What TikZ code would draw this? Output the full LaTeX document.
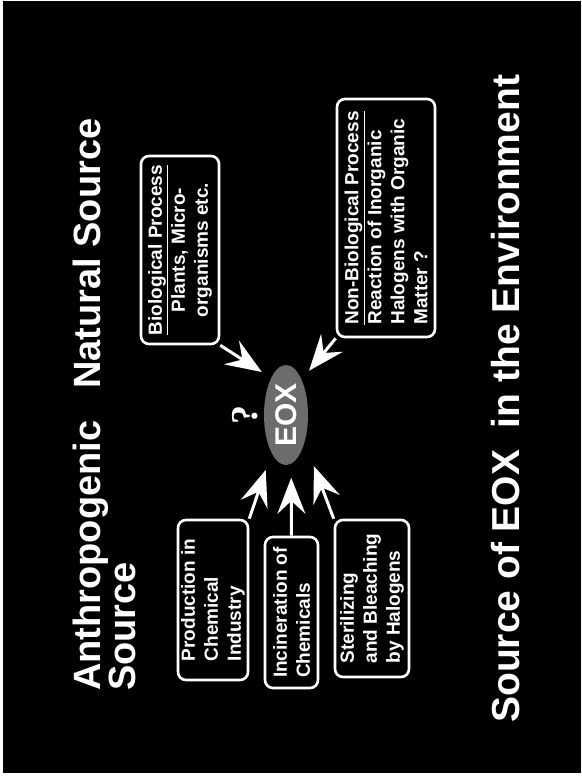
\documentclass[tikz,border=0pt]{standalone}
\usepackage{fontspec}
\setmainfont{Liberation Sans}
\newfontfamily\serifq{Liberation Serif}
\usetikzlibrary{arrows.meta,shapes.geometric}

\begin{document}
\begin{tikzpicture}[x=1pt, y=-1pt, >={Stealth[length=36pt, width=28pt, inset=13pt]},
    srcbox/.style={draw=white, line width=2.6pt, rounded corners=8pt, fill=black, text=white,
        rotate=90, inner sep=2pt, font=\bfseries\fontsize{19}{23}\selectfont},
    bigarrow/.style={->, white, line width=3pt},
    titre/.style={rotate=90, text=white, inner sep=0pt, font=\bfseries\fontsize{38}{35}\selectfont}]

    % Fond noir
    \fill[white] (0,0) rectangle (581,776);
    \fill[black] (3,1) rectangle (581,773);

    % Titres
    \node[titre, anchor=base west, align=left] (anthro) at (135,691) {Anthropogenic\\Source};
    \node[titre, anchor=base west] (natur) at (100,389) {Natural Source};
    \node[titre, anchor=base west, font=\bfseries\fontsize{39}{39}\selectfont] (bas) at (519,723)
        {Source of EOX\ \ in the Environment};

    % EOX au centre
    \node[ellipse, fill=gray!85!black, minimum width=44pt, minimum height=100pt, inner sep=0pt,
        text=white, font=\bfseries\fontsize{30}{30}\selectfont] (eox) at (286,415) {\rotatebox{90}{EOX}};
    \node[rotate=90, text=white, font=\serifq\bfseries\fontsize{38}{38}\selectfont] (quest) at (245,415) {?};

    % Sources naturelles
    \node[srcbox, align=center, minimum width=188pt, minimum height=78pt] (bio) at (180,250)
        {\underline{Biological Process}\\Plants, Micro-\\organisms etc.};
    \node[srcbox, align=left, minimum width=238pt, minimum height=98pt] (nonbio) at (386,218)
        {\underline{Non-Biological Process}\\Reaction of Inorganic\\Halogens with Organic\\Matter ?};

    % Sources anthropogeniques
    \node[srcbox, align=left, minimum width=160pt, minimum height=70pt] (prod) at (213,600)
        {Production in\\Chemical\\Industry};
    \node[srcbox, align=left, minimum width=151pt, minimum height=53pt] (incin) at (291.5,612.5)
        {Incineration of\\Chemicals};
    \node[srcbox, align=left, minimum width=157pt, minimum height=74pt] (steril) at (372,598.5)
        {Sterilizing\\and Bleaching\\by Halogens};

    % Fleches vers EOX
    \draw[bigarrow, shorten >=11pt] (bio.south west) -- (eox.112);
    \draw[bigarrow, shorten >=11.5pt] (nonbio.north west) -- (eox.66);
    \draw[bigarrow, shorten >=18pt] (prod.south east) -- (eox.249);
    \draw[bigarrow, shorten >=14pt] (incin.east) -- (eox.276);
    \draw[bigarrow, shorten >=26pt] (steril.north east) -- (eox.305);
\end{tikzpicture}
\end{document}
